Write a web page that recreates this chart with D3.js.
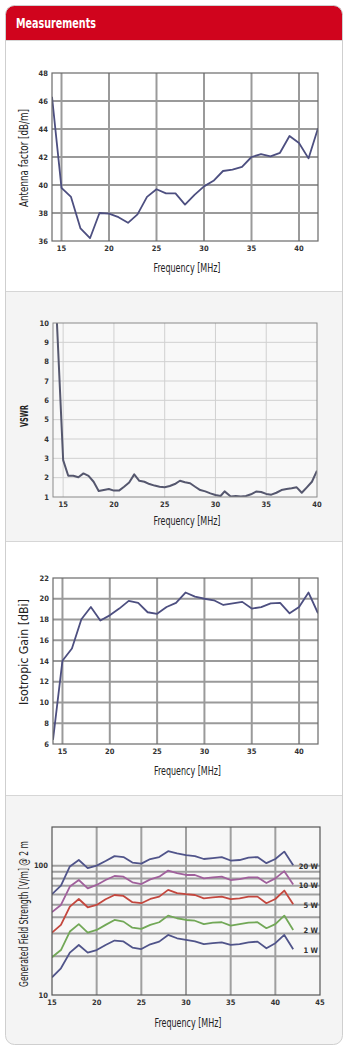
<!DOCTYPE html>
<html><head><meta charset="utf-8">
<script src="https://cdn.jsdelivr.net/npm/d3@7"></script>
<style>
html,body{margin:0;padding:0;background:#fff;}
svg{display:block;}
</style></head><body>
<svg id="c" width="347" height="1055"></svg>
<script>
// ---- Data ----
const afFreq = [14,15,16,17,18,19,20,21,22,23,24,25,26,27,28,29,30,31,32,33,34,35,36,37,38,39,40,41,42];
const antennaFactor = [46.3,39.8,39.15,36.9,36.2,38.0,37.95,37.7,37.3,37.9,39.15,39.7,39.4,39.4,38.6,39.3,39.9,40.3,41.0,41.1,41.3,42.0,42.2,42.05,42.3,43.5,43.0,41.9,44.05];
const afTicksX = [15,20,25,30,35,40];
const afTicksY = [36,38,40,42,44,46,48];

const vswrFreq = [14,15,15.5,16,16.5,17,17.5,18,18.5,19,19.5,20,20.5,21,21.5,22,22.5,23,23.5,24,24.5,25,25.5,26,26.5,27,27.5,28,28.5,29,29.5,30,30.5,30.9,31.5,32,32.5,33,33.5,34,34.5,35,35.5,36,36.5,37,37.5,38,38.5,39,39.5,40];
const vswr = [14.5,2.91,2.1,2.1,2.02,2.22,2.09,1.79,1.31,1.36,1.41,1.33,1.33,1.53,1.75,2.17,1.84,1.79,1.67,1.59,1.53,1.5,1.57,1.67,1.84,1.76,1.71,1.53,1.36,1.29,1.19,1.1,1.05,1.29,1.03,1.05,1.03,1.05,1.14,1.28,1.26,1.16,1.12,1.22,1.36,1.41,1.45,1.5,1.22,1.5,1.79,2.36];
const vswrTicksX = [15,20,25,30,35,40];
const vswrTicksY = [1,2,3,4,5,6,7,8,9,10];

const gainFreq = [14,15,16,17,18,19,20,21,22,23,24,25,26,27,28,29,30,31,32,33,34,35,36,37,38,39,40,41,42];
const isoGain = [6.4,14.03,15.2,18.03,19.2,17.9,18.4,19.05,19.8,19.6,18.7,18.55,19.2,19.6,20.6,20.2,20.0,19.85,19.4,19.55,19.7,19.05,19.2,19.55,19.6,18.6,19.2,20.6,18.6];
const gainTicksX = [15,20,25,30,35,40];
const gainTicksY = [6,8,10,12,14,16,18,20,22];

const fsFreq = [15,16,17,18,19,20,21,22,23,24,25,26,27,28,29,30,31,32,33,34,35,36,37,38,39,40,41,42];
const fs1W  = [13.7,16.1,21.3,24.4,21.3,22.3,24.4,26.4,26.0,23.3,22.7,24.7,25.9,29.2,27.5,26.7,26.0,24.8,25.2,25.6,24.4,24.8,25.6,25.9,23.0,25.2,29.2,22.6];
const fs2W  = [19.6,22.3,31,35.4,30.4,31.9,34.9,38.1,37,33.2,32.5,34.9,36.6,41.2,39.3,38.1,37.6,35.4,36.4,36.6,34.5,35.4,36.4,36.6,32.9,35.4,41.2,31.9];
const fs5W  = [30.4,34.9,48.4,55.4,47.8,49.8,55.2,59.5,58.5,52.3,51.4,55.4,57.8,65.2,61.6,60.4,59.5,56.1,57,57.8,55.2,56.1,57.8,57.8,51.4,55.4,64.4,50.4];
const fs10W = [43.8,49.8,69.1,77.7,67,71.2,77.7,83.5,82.5,74.6,72.3,78.6,82.5,92,88,85,85,80,81.5,82.5,77.7,79,81.5,81.5,73.6,80,91,71.6];
const fs20W = [60.4,70.3,98.9,111,96,100.5,109,119,117,106,104,113,117,130,125,121,119,113,115,117,110,111,116,117,105,113,129,101];
const fsLabels = ["20 W","10 W","5 W","2 W","1 W"];
const fsLabelVals = [100,71,50,31.9,22.3];
const fsTicksX = [15,20,25,30,35,40,45];
const fsTicksY = [10,100];
const fsGridY = [20,30,40,50,60,70,80,90,100];

// ---- Layout ----
const svg = d3.select("#c");
const FONT = "'Liberation Sans Narrow','DejaVu Sans Condensed',sans-serif";

const panels = [
  {y0:40,y1:291,fill:"#ffffff"},
  {y0:291,y1:541,fill:"#f4f4f4"},
  {y0:541,y1:795,fill:"#ffffff"},
  {y0:795,y1:1045,fill:"#f4f4f4"}
];
const clipOuter = svg.append("clipPath").attr("id","outer");
clipOuter.append("rect").attr("x",5.5).attr("y",5.5).attr("width",337).attr("height",1039).attr("rx",9);
const gOuter = svg.append("g").attr("clip-path","url(#outer)");
panels.forEach(p=>{
  gOuter.append("rect").attr("x",5).attr("y",p.y0).attr("width",338).attr("height",p.y1-p.y0).attr("fill",p.fill);
  gOuter.append("line").attr("x1",5).attr("x2",343).attr("y1",p.y0+0.5).attr("y2",p.y0+0.5).attr("stroke","#d6d6d6");
});
gOuter.append("rect").attr("x",5).attr("y",5).attr("width",338).attr("height",35).attr("fill","#d0041d");
svg.append("rect").attr("x",5.5).attr("y",5.5).attr("width",337).attr("height",1039).attr("rx",9)
  .attr("fill","none").attr("stroke","#cfcfcf");
svg.append("text").attr("x",16).attr("y",27.5).text("Measurements")
  .attr("fill","#fff").attr("font-family",FONT).attr("font-weight","bold").attr("font-size",13.5)
  .attr("textLength",80).attr("lengthAdjust","spacingAndGlyphs");

let clipId = 0;
function chart(c){
  const g = svg.append("g");
  const x = d3.scaleLinear().domain(c.xDomain).range([c.left,c.right]);
  const y = (c.log ? d3.scaleLog() : d3.scaleLinear()).domain(c.yDomain).range([c.bottom,c.top]);
  g.append("rect").attr("x",c.left).attr("y",c.top).attr("width",c.right-c.left).attr("height",c.bottom-c.top)
    .attr("fill",c.bg);
  const gx = c.xGrid || c.xTicks, gy = c.yGrid || c.yTicks;
  g.selectAll(".gx").data(gx.filter(v=>v>c.xDomain[0]&&v<c.xDomain[1])).join("line")
    .attr("x1",d=>x(d)).attr("x2",d=>x(d)).attr("y1",c.top).attr("y2",c.bottom)
    .attr("stroke",c.gridColor).attr("stroke-width",c.gridWidth);
  g.selectAll(".gy").data(gy.filter(v=>v>c.yDomain[0]&&v<c.yDomain[1])).join("line")
    .attr("x1",c.left).attr("x2",c.right).attr("y1",d=>y(d)).attr("y2",d=>y(d))
    .attr("stroke",c.gridColor).attr("stroke-width",c.gridWidth);
  const id = "clip"+(clipId++);
  svg.append("clipPath").attr("id",id).append("rect").attr("x",c.left).attr("y",c.top)
    .attr("width",c.right-c.left).attr("height",c.bottom-c.top);
  const gl = g.append("g").attr("clip-path",`url(#${id})`);
  c.series.forEach(s=>{
    const pts = s.x.map((d,i)=>[d,s.y[i]]);
    gl.append("path").attr("d",d3.line().x(d=>x(d[0])).y(d=>y(d[1]))(pts))
      .attr("fill","none").attr("stroke",s.color).attr("stroke-width",c.lineWidth||1.8)
      .attr("stroke-linejoin","round");
  });
  g.append("rect").attr("x",c.left).attr("y",c.top).attr("width",c.right-c.left).attr("height",c.bottom-c.top)
    .attr("fill","none").attr("stroke",c.frameColor).attr("stroke-width",c.frameWidth||1.2);
  g.selectAll(".tx").data(c.xTicks).join("text")
    .attr("x",d=>x(d)).attr("y",c.bottom+10).attr("text-anchor","middle").text(d=>d)
    .attr("font-family",FONT).attr("font-weight","bold").attr("font-size",7.5).attr("fill","#333");
  g.selectAll(".ty").data(c.yTicks).join("text")
    .attr("x",c.left-4).attr("y",d=>y(d)+2.6).attr("text-anchor","end").text(d=>d)
    .attr("font-family",FONT).attr("font-weight","bold").attr("font-size",7.5).attr("fill","#333");
  g.append("text").attr("x",(c.left+c.right)/2 + 2).attr("y",c.xTitleY).attr("text-anchor","middle")
    .text("Frequency [MHz]").attr("font-family",FONT).attr("font-size",11.5).attr("fill","#222")
    .attr("textLength",67).attr("lengthAdjust","spacingAndGlyphs");
  g.append("text").attr("transform",`translate(${c.yTitleX},${c.yTitleY}) rotate(-90)`)
    .attr("text-anchor","middle").text(c.yTitle).attr("font-family",FONT)
    .attr("font-size",c.yTitleSize||11.5).attr("font-weight",c.yTitleWeight||"normal").attr("fill","#222")
    .attr("textLength",c.yTitleLen).attr("lengthAdjust","spacingAndGlyphs");
  if (c.labels) {
    g.selectAll(".lb").data(c.labels).join("text")
      .attr("x",c.right-2).attr("y",d=>y(d.v)+2.8).attr("text-anchor","end").text(d=>d.t)
      .attr("font-family",FONT).attr("font-weight","bold").attr("font-size",7.5).attr("fill","#333");
  }
  return {x,y};
}

const LINE = "#4d4f80";

chart({left:52,right:318,top:73,bottom:241,xDomain:[14,42],yDomain:[36,48],
  xTicks:afTicksX,yTicks:afTicksY,bg:"#fff",gridColor:"#9a9a9a",gridWidth:2,frameColor:"#6a6a6a",
  series:[{x:afFreq,y:antennaFactor,color:LINE}],
  yTitle:"Antenna factor [dB/m]",yTitleLen:98,yTitleX:28,yTitleY:158,xTitleY:272});

chart({left:53,right:317,top:323,bottom:497,xDomain:[14,40],yDomain:[1,10],
  xTicks:vswrTicksX,yTicks:vswrTicksY,bg:"#f8f8f8",gridColor:"#d0d0d0",gridWidth:1,frameColor:"#8a8a8a",frameWidth:1,
  lineWidth:2,series:[{x:vswrFreq,y:vswr,color:"#55576e"}],
  yTitle:"VSWR",yTitleLen:22,yTitleSize:10,yTitleWeight:"bold",yTitleX:28,yTitleY:416,xTitleY:525});

chart({left:53,right:318,top:578,bottom:744,xDomain:[14,42],yDomain:[6,22],
  xTicks:gainTicksX,yTicks:gainTicksY,bg:"#fff",gridColor:"#9a9a9a",gridWidth:2,frameColor:"#6a6a6a",
  series:[{x:gainFreq,y:isoGain,color:LINE}],
  yTitle:"Isotropic Gain [dBi]",yTitleLen:106,yTitleX:28,yTitleY:652,xTitleY:775});

chart({left:52,right:320,top:827,bottom:995,xDomain:[15,45],yDomain:[10,200],log:true,
  xTicks:fsTicksX,yTicks:fsTicksY,yGrid:fsGridY,bg:"#f7f7f7",gridColor:"#a0a0a0",gridWidth:2,frameColor:"#555",
  series:[
    {x:fsFreq,y:fs20W,color:"#50548a"},
    {x:fsFreq,y:fs10W,color:"#a0609c"},
    {x:fsFreq,y:fs5W,color:"#c4473e"},
    {x:fsFreq,y:fs2W,color:"#72a857"},
    {x:fsFreq,y:fs1W,color:"#50548a"}
  ],
  labels:fsLabels.map((t,i)=>({t,v:fsLabelVals[i]})),
  yTitle:"Generated Field Strength [V/m] @ 2 m",yTitleLen:146,yTitleX:28,yTitleY:914,xTitleY:1027});
</script>
</body></html>
